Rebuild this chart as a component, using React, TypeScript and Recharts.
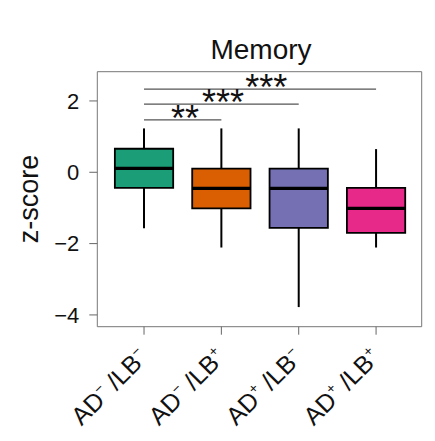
import React from 'react';
import {
  ComposedChart,
  XAxis,
  YAxis,
  ReferenceArea,
  ReferenceLine,
  Scatter,
  Customized,
} from 'recharts';

// ---- data ----
const groupPositions = [1, 2, 3, 4];
const adSigns = ['−', '−', '+', '+'];
const lbSigns = ['−', '+', '−', '+'];
const whiskerLow = [-1.57, -2.11, -3.78, -2.11];
const q1 = [-0.44, -1.01, -1.56, -1.7];
const median = [0.11, -0.45, -0.45, -1.01];
const q3 = [0.66, 0.1, 0.1, -0.44];
const whiskerHigh = [1.23, 1.23, 1.23, 0.65];
const boxColors = ['#1B9E77', '#D95F02', '#7570B3', '#E7298A'];
const yTicks = [-4, -2, 0, 2];

const compFrom = [1, 1, 1];
const compTo = [2, 3, 4];
const compLevel = [1.47, 1.91, 2.33];
const compStars = ['**', '***', '***'];
const compStarX = [1.53, 2.02, 2.58];

const X_DOMAIN: [number, number] = [0.396, 4.59];
const Y_DOMAIN: [number, number] = [-4.33, 2.82];
const BOX_HALF = 0.377;
const FONT = '"Liberation Sans", Arial, sans-serif';

const starData = compStars.map((s, i) => ({ x: compStarX[i], y: compLevel[i], stars: s }));

const StarShape = (props: any) => {
  const { cx, cy, payload } = props;
  if (cx == null || cy == null) return null;
  return (
    <text
      x={cx}
      y={cy + 11}
      textAnchor="middle"
      fontSize={36}
      fontFamily={FONT}
      fill="#111"
    >
      {payload.stars}
    </text>
  );
};

const XTick = (props: any) => {
  const { x, y, payload } = props;
  const i = groupPositions.indexOf(payload.value);
  if (i < 0) return null;
  return (
    <g transform={`translate(${x - 1},${y + 16})`}>
      <text
        transform="rotate(-45)"
        textAnchor="end"
        dy="0.35em"
        fontSize={25}
        fontFamily={FONT}
        fill="#111"
      >
        <tspan>AD</tspan>
        <tspan fontSize={14} dy={-10}>{adSigns[i]}</tspan>
        <tspan dy={10}>{' /LB'}</tspan>
        <tspan fontSize={14} dy={-10}>{lbSigns[i]}</tspan>
      </text>
    </g>
  );
};

const Titles = () => (
  <g>
    <text x={261} y={59} textAnchor="middle" fontSize={28} fontFamily={FONT} fill="#111">
      Memory
    </text>
    <text
      transform="translate(38,199) rotate(-90)"
      textAnchor="middle"
      fontSize={27}
      fontFamily={FONT}
      fill="#111"
    >
      z-score
    </text>
  </g>
);

export default function App() {
  return (
    <div style={{ position: 'absolute', left: 0, top: 0, background: '#fff' }}>
      <ComposedChart
        width={435}
        height={441}
        data={starData}
        margin={{ top: 71.7, right: 13.3, bottom: 14.3, left: 17.3 }}
      >
        <XAxis
          type="number"
          dataKey="x"
          domain={X_DOMAIN}
          allowDataOverflow
          ticks={groupPositions}
          interval={0}
          axisLine={false}
          tickLine={{ stroke: '#666', strokeWidth: 1 }}
          tickSize={8}
          height={100}
          tick={<XTick />}
        />
        <YAxis
          type="number"
          dataKey="y"
          domain={Y_DOMAIN}
          allowDataOverflow
          ticks={yTicks}
          interval={0}
          axisLine={false}
          tickLine={{ stroke: '#666', strokeWidth: 1 }}
          tickSize={8}
          tickMargin={10}
          width={80}
          tick={{ fontSize: 22, fontFamily: FONT, fill: '#111' }}
          tickFormatter={(v: number) => (v < 0 ? `−${Math.abs(v)}` : `${v}`)}
        />
        {/* frame */}
        <ReferenceArea
          x1={X_DOMAIN[0]}
          x2={X_DOMAIN[1]}
          y1={Y_DOMAIN[0]}
          y2={Y_DOMAIN[1]}
          fill="none"
          stroke="#777"
          strokeWidth={1}
          ifOverflow="visible"
        />
        {/* whiskers */}
        {groupPositions.map((p, i) => (
          <ReferenceLine
            key={`wl${i}`}
            segment={[{ x: p, y: whiskerLow[i] }, { x: p, y: q1[i] }]}
            stroke="#000"
            strokeWidth={2}
            ifOverflow="visible"
          />
        ))}
        {groupPositions.map((p, i) => (
          <ReferenceLine
            key={`wh${i}`}
            segment={[{ x: p, y: q3[i] }, { x: p, y: whiskerHigh[i] }]}
            stroke="#000"
            strokeWidth={2}
            ifOverflow="visible"
          />
        ))}
        {/* boxes */}
        {groupPositions.map((p, i) => (
          <ReferenceArea
            key={`b${i}`}
            x1={p - BOX_HALF}
            x2={p + BOX_HALF}
            y1={q1[i]}
            y2={q3[i]}
            fill={boxColors[i]}
            fillOpacity={1}
            stroke="#000"
            strokeWidth={1.8}
            ifOverflow="visible"
          />
        ))}
        {/* medians */}
        {groupPositions.map((p, i) => (
          <ReferenceLine
            key={`m${i}`}
            segment={[{ x: p - BOX_HALF, y: median[i] }, { x: p + BOX_HALF, y: median[i] }]}
            stroke="#000"
            strokeWidth={3.2}
            ifOverflow="visible"
          />
        ))}
        {/* significance brackets */}
        {compFrom.map((f, i) => (
          <ReferenceLine
            key={`c${i}`}
            segment={[{ x: f, y: compLevel[i] }, { x: compTo[i], y: compLevel[i] }]}
            stroke="#555"
            strokeWidth={1.3}
            ifOverflow="visible"
          />
        ))}
        <Scatter dataKey="y" data={starData} isAnimationActive={false} shape={<StarShape />} />
        <Customized component={<Titles />} />
      </ComposedChart>
    </div>
  );
}
